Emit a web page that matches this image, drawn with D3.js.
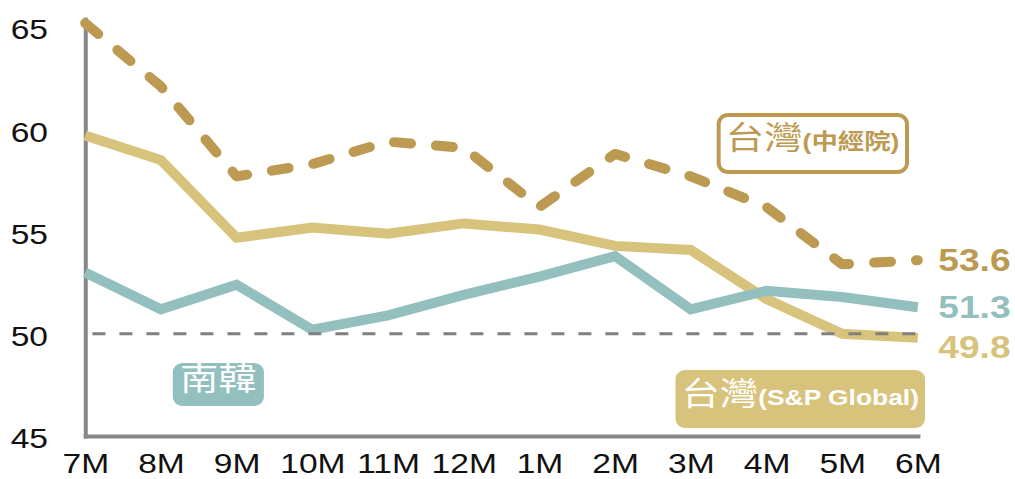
<!DOCTYPE html>
<html>
<head>
<meta charset="utf-8">
<script src="https://cdn.jsdelivr.net/npm/d3@7"></script>
<style>
  body { margin: 0; background: #fff; }
  svg { display: block; }
  text { font-family: "Liberation Sans", Arial, "Noto Sans CJK TC", sans-serif; }
</style>
</head>
<body>
<script>
// PMI, 7M .. 6M
var months = ["7M", "8M", "9M", "10M", "11M", "12M", "1M", "2M", "3M", "4M", "5M", "6M"];
var twCier = [65.2, 62.1, 57.7, 58.3, 59.4, 59.1, 56.2, 58.8, 57.7, 56.2, 53.4, 53.6];
var twSP = [59.7, 58.5, 54.7, 55.2, 54.9, 55.4, 55.1, 54.3, 54.1, 51.7, 50.0, 49.8];
var korea = [53.0, 51.2, 52.4, 50.2, 50.9, 51.9, 52.8, 53.8, 51.2, 52.1, 51.8, 51.3];
var yTicks = [45, 50, 55, 60, 65];
var threshold = 50;

var cGold = "#bd9a51",
    cSand = "#d8c37c",
    cTeal = "#93c0be",
    cAxis = "#888888";

// drawn on a narrower grid, then stretched to the window width
var outerW = 1015, outerH = 479,
    width = 846, height = 479;

var svg = d3.select("body").append("svg")
    .attr("width", outerW)
    .attr("height", outerH)
    .attr("viewBox", "0 0 " + width + " " + height)
    .attr("preserveAspectRatio", "none");

var x = d3.scalePoint()
    .domain(months)
    .range([71, 765]);

var y = d3.scaleLinear()
    .domain([45, 65.4])
    .range([436, 19]);

// axes
var gy = svg.append("g")
    .attr("class", "y axis")
    .attr("transform", "translate(" + x(months[0]) + ",0)")
    .call(d3.axisLeft(y).tickValues(yTicks).tickSize(0).tickSizeOuter(0).tickPadding(31));

var gx = svg.append("g")
    .attr("class", "x axis")
    .attr("transform", "translate(0," + y(45) + ")")
    .call(d3.axisBottom(x).tickSize(0).tickSizeOuter(0).tickPadding(17));

svg.selectAll(".axis .domain")
    .attr("stroke", cAxis)
    .attr("stroke-width", 4)
    .attr("stroke-linecap", "square")
    .attr("vector-effect", "non-scaling-stroke");

svg.selectAll(".axis text")
    .attr("font-size", 28)
    .attr("fill", "#111");
gy.selectAll("text").attr("dy", "0.42em");

var line = d3.line()
    .x(function(d, i) { return x(months[i]); })
    .y(function(d) { return y(d); });

function drawLine(values, color, dashed) {
  var p = svg.append("path")
      .datum(values)
      .attr("d", line)
      .attr("fill", "none")
      .attr("stroke", color)
      .attr("stroke-width", 10)
      .attr("vector-effect", "non-scaling-stroke");
  if (dashed) {
    p.attr("stroke-dasharray", "17,25")
     .attr("stroke-linecap", "round")
     .attr("stroke-linejoin", "round");
  }
  return p;
}

drawLine(twSP, cSand, false);
drawLine(korea, cTeal, false);

// 50 threshold
svg.append("line")
    .attr("x1", x(months[0]) + 6)
    .attr("x2", x(months[months.length - 1]))
    .attr("y1", y(threshold))
    .attr("y2", y(threshold))
    .attr("stroke", "#808080")
    .attr("stroke-width", 3)
    .attr("stroke-dasharray", "13,14")
    .attr("vector-effect", "non-scaling-stroke");

drawLine(twCier, cGold, true);

// last values at the right end, pushed apart so they don't overlap
var endLabels = [
  { v: twCier[twCier.length - 1], color: cGold },
  { v: korea[korea.length - 1], color: cTeal },
  { v: twSP[twSP.length - 1], color: cSand }
];
var prev = -Infinity;
endLabels.forEach(function(d) {
  d.y = Math.max(y(d.v), prev + 40);
  prev = d.y;
});

svg.selectAll(".end-label")
    .data(endLabels)
  .enter().append("text")
    .attr("class", "end-label")
    .attr("x", x(months[months.length - 1]) + 17)
    .attr("y", function(d) { return d.y; })
    .attr("dy", "0.36em")
    .attr("font-size", 31)
    .attr("font-weight", "bold")
    .attr("fill", function(d) { return d.color; })
    .text(function(d) { return d.v.toFixed(1); });

// series tags
function tag(bx, by, bw, bh, fill, stroke, textColor, big, small, tx) {
  var g = svg.append("g");
  g.append("rect")
      .attr("x", bx).attr("y", by)
      .attr("width", bw).attr("height", bh)
      .attr("rx", 8).attr("ry", 9)
      .attr("fill", fill)
      .attr("stroke", stroke || "none")
      .attr("stroke-width", stroke ? 4 : 0)
      .attr("vector-effect", "non-scaling-stroke");
  var t = g.append("text")
      .attr("x", tx === undefined ? bx + bw / 2 : tx)
      .attr("y", by + bh / 2)
      .attr("dy", "0.36em")
      .attr("text-anchor", tx === undefined ? "middle" : "start")
      .attr("fill", textColor);
  t.append("tspan")
      .attr("font-size", 32)
      .attr("font-weight", 400)
      .text(big);
  if (small) {
    t.append("tspan")
        .attr("font-size", 22)
        .attr("font-weight", "bold")
        .text(small);
  }
}

tag(599, 115, 157, 57, "#fff", cGold, cGold, "台灣", "(中經院)", 605);
tag(563, 370, 208, 58, cSand, null, "#fff", "台灣", "(S&P Global)", 568);
tag(144, 363, 76, 43, cTeal, null, "#fff", "南韓", null);
</script>
</body>
</html>
